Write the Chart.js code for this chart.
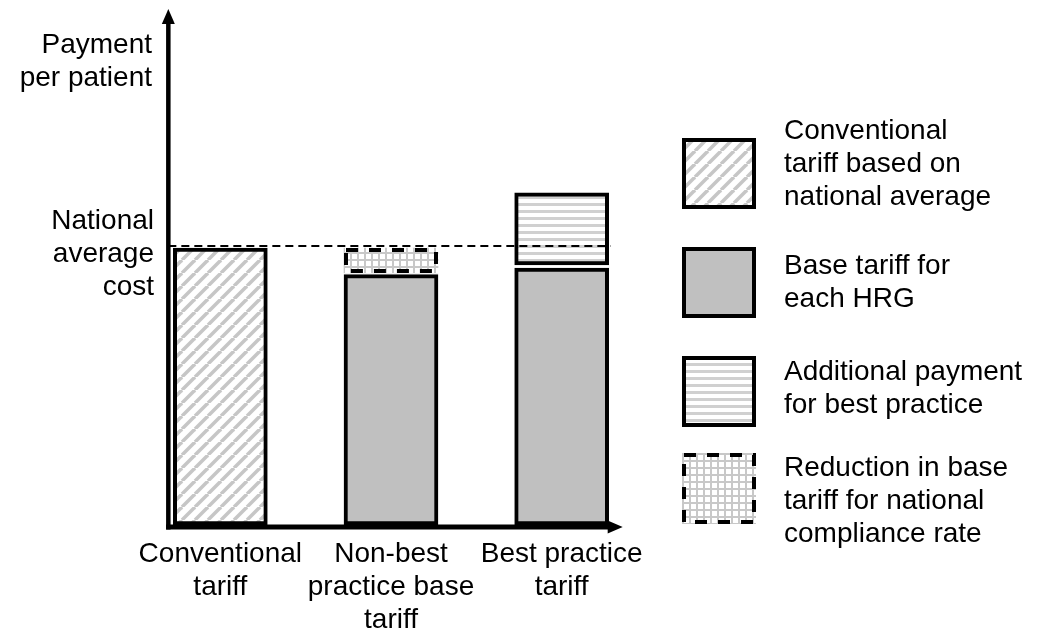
<!DOCTYPE html>
<html>
<head>
<meta charset="utf-8">
<title>Payment per patient by tariff type</title>
<script src="https://cdn.jsdelivr.net/npm/chart.js@4.4.1/dist/chart.umd.min.js"></script>
<style>
  html, body { margin: 0; padding: 0; background: #fff; }
  #wrap { position: relative; width: 1038px; height: 635px; overflow: hidden;
          font-family: "Liberation Sans", Arial, sans-serif; color: #000; }
  #chart { position: absolute; left: 0; top: 0; }
  .txt { position: absolute; font-size: 28px; line-height: 33px; white-space: nowrap; }
  .right { text-align: right; }
  .swatch { position: absolute; left: 682px; }
</style>
</head>
<body>
<div id="wrap">
  <canvas id="chart" width="1038" height="635"></canvas>
  <div class="txt right" style="right:886px; top:27px;">Payment<br>per patient</div>
  <div class="txt right" style="right:884px; top:203px;">National<br>average<br>cost</div>
  <div id="legend"></div>
</div>
<script>
// ---- chart values (payment per patient, national average cost = 100) ----
const categories = [
  ['Conventional', 'tariff'],
  ['Non-best', 'practice base', 'tariff'],
  ['Best practice', 'tariff']
];
const nationalAverage = 100;
const conventionalTariff = [[0, 100], null, null];
const baseTariff = [null, [0, 90.4], [0, 92.8]];
const bestPracticeExtra = [null, null, [93.9, 120]];
const complianceReduction = [null, [91, 100], null];
const yMax = 186;

const legendLabels = [
  ['Conventional', 'tariff based on', 'national average'],
  ['Base tariff for', 'each HRG'],
  ['Additional payment', 'for best practice'],
  ['Reduction in base', 'tariff for national', 'compliance rate']
];

// ---- fill patterns ----
function makeTile(kind) {
  const t = document.createElement('canvas');
  const g = t.getContext('2d');
  if (kind === 'diagonal') {
    t.width = t.height = 13;
    g.fillStyle = '#fff'; g.fillRect(0, 0, 13, 13);
    g.strokeStyle = '#c6c6c6'; g.lineWidth = 3.5;
    for (const k of [-13, 0, 13]) {
      g.beginPath(); g.moveTo(k, 13); g.lineTo(k + 13, 0); g.stroke();
    }
  } else if (kind === 'horizontal') {
    t.width = 7; t.height = 7;
    g.fillStyle = '#fff'; g.fillRect(0, 0, 7, 7);
    g.fillStyle = '#d0d0d0'; g.fillRect(0, 0, 7, 3);
  } else if (kind === 'grid') {
    t.width = 7; t.height = 7;
    g.fillStyle = '#fff'; g.fillRect(0, 0, 7, 7);
    g.fillStyle = '#c8c8c8'; g.fillRect(0, 0, 7, 2); g.fillRect(0, 0, 2, 7);
  }
  return t;
}
const patternCtx = document.createElement('canvas').getContext('2d');
const fills = {
  diagonal: patternCtx.createPattern(makeTile('diagonal'), 'repeat'),
  solid: '#c0c0c0',
  horizontal: patternCtx.createPattern(makeTile('horizontal'), 'repeat'),
  grid: patternCtx.createPattern(makeTile('grid'), 'repeat')
};

const DASH = [12, 11];
const FONT = '"Liberation Sans", Arial, sans-serif';

// ---- axes with arrowheads, national-average line and dashed outlines ----
const diagramDecor = {
  id: 'diagramDecor',
  afterDatasetsDraw(chart) {
    const { ctx, scales: { y } } = chart;
    const first = chart.getDatasetMeta(0).data[0];
    const last = chart.getDatasetMeta(1).data[2];
    const barLeft = first.x - first.width / 2;
    const barRight = last.x + last.width / 2;

    ctx.save();
    // dashed outlines
    chart.data.datasets.forEach((ds, i) => {
      if (!ds.dashedOutline) return;
      chart.getDatasetMeta(i).data.forEach((el, j) => {
        if (ds.data[j] == null) return;
        const l = el.x - el.width / 2, top = Math.min(el.y, el.base), h = Math.abs(el.base - el.y);
        ctx.setLineDash(DASH);
        ctx.lineWidth = 4;
        ctx.strokeStyle = '#000';
        ctx.strokeRect(l + 2, top + 2, el.width - 4, h - 4);
      });
    });

    // national average reference line
    const yAvg = y.getPixelForValue(nationalAverage) - 2;
    const axisX = barLeft - 5;
    ctx.setLineDash([8, 5]);
    ctx.lineWidth = 2;
    ctx.beginPath(); ctx.moveTo(axisX, yAvg); ctx.lineTo(barRight + 2, yAvg); ctx.stroke();

    // axes
    ctx.setLineDash([]);
    ctx.fillStyle = '#000';
    const y0 = y.getPixelForValue(0) + 2;
    const tipY = chart.chartArea.top - 1;
    const tipX = barRight + 14;
    ctx.lineWidth = 4.5;
    ctx.beginPath(); ctx.moveTo(axisX, y0 + 2.5); ctx.lineTo(axisX, tipY + 12); ctx.stroke();
    ctx.beginPath(); ctx.moveTo(axisX, tipY); ctx.lineTo(axisX - 6.5, tipY + 15); ctx.lineTo(axisX + 6.5, tipY + 15); ctx.closePath(); ctx.fill();
    ctx.lineWidth = 5;
    ctx.beginPath(); ctx.moveTo(axisX - 2.25, y0); ctx.lineTo(tipX - 12, y0); ctx.stroke();
    ctx.beginPath(); ctx.moveTo(tipX, y0); ctx.lineTo(tipX - 15, y0 - 6.5); ctx.lineTo(tipX - 15, y0 + 6.5); ctx.closePath(); ctx.fill();
    ctx.restore();
  }
};

const barCommon = {
  borderColor: '#000',
  borderWidth: 4,
  borderSkipped: false,
  barThickness: 94,
  grouped: false
};

new Chart(document.getElementById('chart'), {
  type: 'bar',
  data: {
    labels: categories,
    datasets: [
      Object.assign({ label: legendLabels[0].join(' '), data: conventionalTariff, backgroundColor: fills.diagonal }, barCommon),
      Object.assign({ label: legendLabels[1].join(' '), data: baseTariff, backgroundColor: fills.solid }, barCommon),
      Object.assign({ label: legendLabels[2].join(' '), data: bestPracticeExtra, backgroundColor: fills.horizontal }, barCommon),
      Object.assign({ label: legendLabels[3].join(' '), data: complianceReduction, backgroundColor: fills.grid }, barCommon,
        { borderWidth: 0, dashedOutline: true })
    ]
  },
  options: {
    responsive: false,
    devicePixelRatio: 1,
    animation: false,
    events: [],
    layout: { padding: { left: 135, right: 391, top: 10, bottom: 0 } },
    plugins: { legend: { display: false }, tooltip: { enabled: false } },
    scales: {
      x: {
        type: 'category',
        offset: true,
        grid: { display: false, drawTicks: false },
        border: { display: false },
        ticks: {
          color: '#000',
          font: { family: FONT, size: 28, lineHeight: 33 / 28 },
          padding: 13,
          maxRotation: 0,
          autoSkip: false
        },
        afterFit(scale) { scale.height = 110; }
      },
      y: { display: false, min: 0, max: yMax }
    }
  },
  plugins: [diagramDecor]
});

// ---- legend: swatches share the chart fills ----
const legendStyles = [
  { fill: fills.diagonal, dashed: false },
  { fill: fills.solid, dashed: false },
  { fill: fills.horizontal, dashed: false },
  { fill: fills.grid, dashed: true }
];
const swatchTops = [138, 247, 356, 453];
const textTops = [113, 248, 354, 450];
const legend = document.getElementById('legend');
legendLabels.forEach((lines, i) => {
  const c = document.createElement('canvas');
  c.width = 74; c.height = 71;
  c.className = 'swatch';
  c.style.top = swatchTops[i] + 'px';
  const g = c.getContext('2d');
  g.fillStyle = legendStyles[i].fill;
  g.fillRect(0, 0, 74, 71);
  g.strokeStyle = '#000';
  g.lineWidth = 4;
  if (legendStyles[i].dashed) g.setLineDash(DASH);
  g.strokeRect(2, 2, 70, 67);
  legend.appendChild(c);

  const t = document.createElement('div');
  t.className = 'txt';
  t.style.left = '784px';
  t.style.top = textTops[i] + 'px';
  t.innerHTML = lines.join('<br>');
  legend.appendChild(t);
});
</script>
</body>
</html>
